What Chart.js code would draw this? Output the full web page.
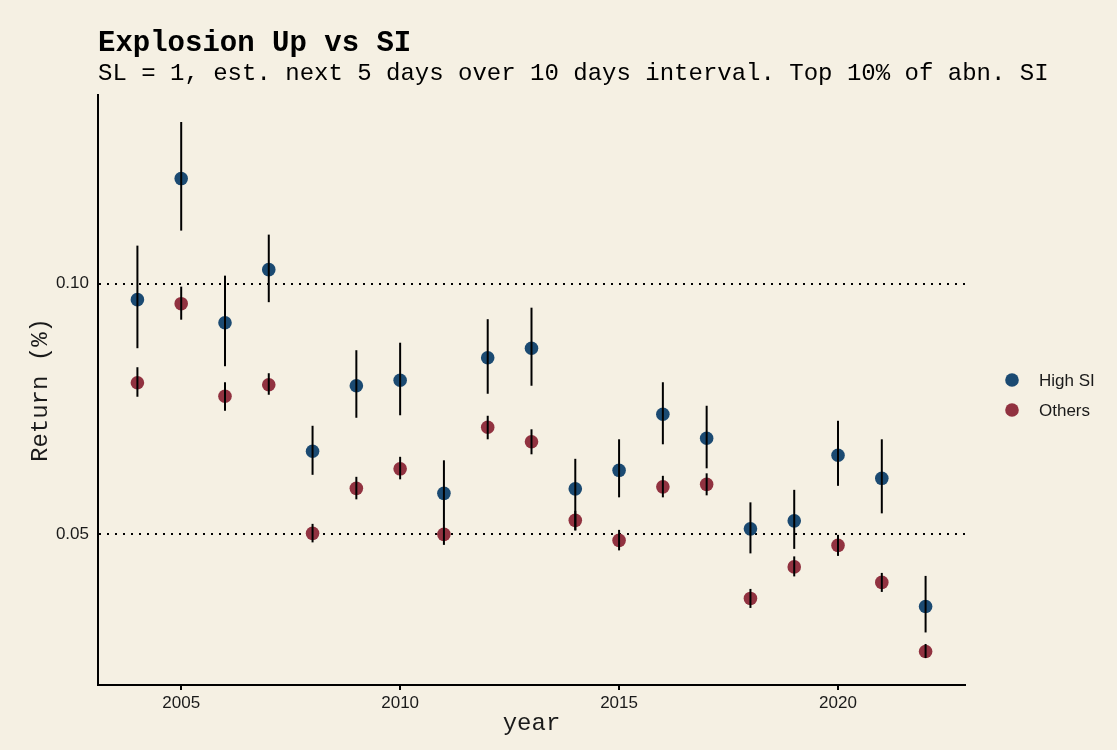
<!DOCTYPE html>
<html>
<head>
<meta charset="utf-8">
<script src="https://cdn.jsdelivr.net/npm/chart.js@4/dist/chart.umd.min.js"></script>
<style>
  html, body { margin: 0; padding: 0; background: #f5f0e3; }
  #wrap { width: 1117px; height: 750px; }
</style>
</head>
<body>
<div id="wrap"><canvas id="chart" width="1117" height="750"></canvas></div>
<script>
// ==========================
// DATA
// ==========================

const years = [2004, 2005, 2006, 2007, 2008, 2009, 2010, 2011, 2012, 2013, 2014, 2015, 2016, 2017, 2018, 2019, 2020, 2021, 2022];

const highSI     = [0.0968, 0.1210, 0.0922, 0.1028, 0.0665, 0.0796, 0.0807, 0.0581, 0.0852, 0.0871, 0.0590, 0.0627, 0.0739, 0.0691, 0.0510, 0.0526, 0.0657, 0.0611, 0.0355];
const highSILow  = [0.0871, 0.1106, 0.0835, 0.0963, 0.0618, 0.0732, 0.0737, 0.0520, 0.0780, 0.0796, 0.0507, 0.0573, 0.0679, 0.0631, 0.0461, 0.0470, 0.0596, 0.0541, 0.0303];
const highSIHigh = [0.1076, 0.1323, 0.1016, 0.1098, 0.0716, 0.0867, 0.0882, 0.0647, 0.0929, 0.0952, 0.0650, 0.0689, 0.0803, 0.0756, 0.0563, 0.0588, 0.0726, 0.0689, 0.0416];

const others     = [0.0802, 0.0960, 0.0775, 0.0798, 0.0501, 0.0591, 0.0630, 0.0499, 0.0713, 0.0684, 0.0527, 0.0487, 0.0594, 0.0599, 0.0371, 0.0434, 0.0477, 0.0403, 0.0265];
const othersLow  = [0.0774, 0.0928, 0.0746, 0.0778, 0.0483, 0.0569, 0.0609, 0.0478, 0.0689, 0.0659, 0.0507, 0.0467, 0.0573, 0.0577, 0.0352, 0.0415, 0.0456, 0.0384, 0.0252];
const othersHigh = [0.0833, 0.0994, 0.0803, 0.0821, 0.0520, 0.0614, 0.0654, 0.0521, 0.0736, 0.0709, 0.0546, 0.0508, 0.0616, 0.0621, 0.0390, 0.0455, 0.0498, 0.0422, 0.0280];

const xTicks = [2005, 2010, 2015, 2020];
const yTicks = [0.05, 0.10];

const seriesNames = ["High SI", "Others"];

// ==========================
// STYLE
// ==========================

const BG = "#f5f0e3";
const BLUE = "#1b4a72";
const RED = "#913240";
const MONO = "'Liberation Mono', 'Courier New', monospace";
const SANS = "'Liberation Sans', Helvetica, Arial, sans-serif";

function toPoints(values){
  return values.map((v, i) => ({ x: years[i], y: v }));
}

// ==========================
// PLUGINS
// ==========================

// paper background
const background = {
  id: "background",
  beforeDraw(chart){
    const c = chart.ctx;
    c.save();
    c.fillStyle = BG;
    c.fillRect(0, 0, chart.width, chart.height);
    c.restore();
  }
};

// vertical error bars, drawn on top of the dots
const errorBars = {
  id: "errorBars",
  afterDatasetsDraw(chart){
    const c = chart.ctx;
    const xs = chart.scales.x;
    const ys = chart.scales.y;
    const ranges = [[highSILow, highSIHigh], [othersLow, othersHigh]];
    c.save();
    c.strokeStyle = "#000";
    c.lineWidth = 2;
    ranges.forEach(([lo, hi]) => {
      for(let i = 0; i < years.length; i++){
        const px = xs.getPixelForValue(years[i]);
        c.beginPath();
        c.moveTo(px, ys.getPixelForValue(lo[i]));
        c.lineTo(px, ys.getPixelForValue(hi[i]));
        c.stroke();
      }
    });
    c.restore();
  }
};

// title + subtitle lined up with the panel, legend on the right
const headings = {
  id: "headings",
  afterDraw(chart){
    const c = chart.ctx;
    const area = chart.chartArea;
    c.save();
    c.fillStyle = "#000";
    c.textBaseline = "alphabetic";
    c.textAlign = "left";
    c.font = "bold 29px " + MONO;
    c.fillText("Explosion Up vs SI", area.left, 51);
    c.font = "24px " + MONO;
    c.fillText("SL = 1, est. next 5 days over 10 days interval. Top 10% of abn. SI", area.left, 79.5);

    // legend
    const colors = [BLUE, RED];
    c.font = "17px " + SANS;
    c.textBaseline = "middle";
    seriesNames.forEach((name, i) => {
      const y = 380 + i * 30;
      c.fillStyle = colors[i];
      c.beginPath();
      c.arc(area.right + 47, y, 6.8, 0, Math.PI * 2);
      c.fill();
      c.fillStyle = "#1a1a1a";
      c.fillText(name, area.right + 74, y + 1);
    });
    c.restore();
  }
};

// ==========================
// CHART
// ==========================

const ctx = document.getElementById("chart");

const chart = new Chart(ctx, {
  type: "scatter",
  data: {
    datasets: [
      {
        label: seriesNames[0],
        data: toPoints(highSI),
        backgroundColor: BLUE,
        borderWidth: 0,
        pointRadius: 6.8,
        pointHoverRadius: 6.8
      },
      {
        label: seriesNames[1],
        data: toPoints(others),
        backgroundColor: RED,
        borderWidth: 0,
        pointRadius: 6.8,
        pointHoverRadius: 6.8
      }
    ]
  },
  options: {
    responsive: false,
    animation: false,
    layout: { padding: { top: 95, right: 152, left: 0, bottom: 0 } },
    plugins: {
      legend: { display: false },
      tooltip: { enabled: false }
    },
    scales: {
      x: {
        type: "linear",
        min: 2003.1,
        max: 2022.9,
        afterFit(scale){ scale.height = 65; },
        afterBuildTicks(scale){ scale.ticks = xTicks.map(v => ({ value: v })); },
        ticks: {
          callback: (v) => String(v),
          font: { family: SANS, size: 17 },
          color: "#1a1a1a",
          padding: 3,
          maxRotation: 0
        },
        grid: {
          drawOnChartArea: false,
          drawTicks: true,
          tickLength: 5,
          color: "#000",
          lineWidth: 2
        },
        border: { display: true, color: "#000", width: 2 },
        title: {
          display: true,
          text: "year",
          font: { family: MONO, size: 24 },
          color: "#1a1a1a",
          padding: { top: 0, bottom: 12 }
        }
      },
      y: {
        min: 0.0198,
        max: 0.1377,
        afterFit(scale){ scale.width = 98; },
        afterBuildTicks(scale){ scale.ticks = yTicks.map(v => ({ value: v })); },
        ticks: {
          callback: (v) => v.toFixed(2),
          font: { family: SANS, size: 17 },
          color: "#1a1a1a",
          padding: 9
        },
        grid: {
          drawTicks: false,
          color: "#000",
          lineWidth: 2
        },
        border: { display: true, color: "#000", width: 2, dash: [2, 6] },
        title: {
          display: true,
          text: "Return (%)",
          font: { family: MONO, size: 24 },
          color: "#1a1a1a",
          padding: { top: 26.2, bottom: 0 }
        }
      }
    }
  },
  plugins: [background, errorBars, headings]
});
</script>
</body>
</html>
